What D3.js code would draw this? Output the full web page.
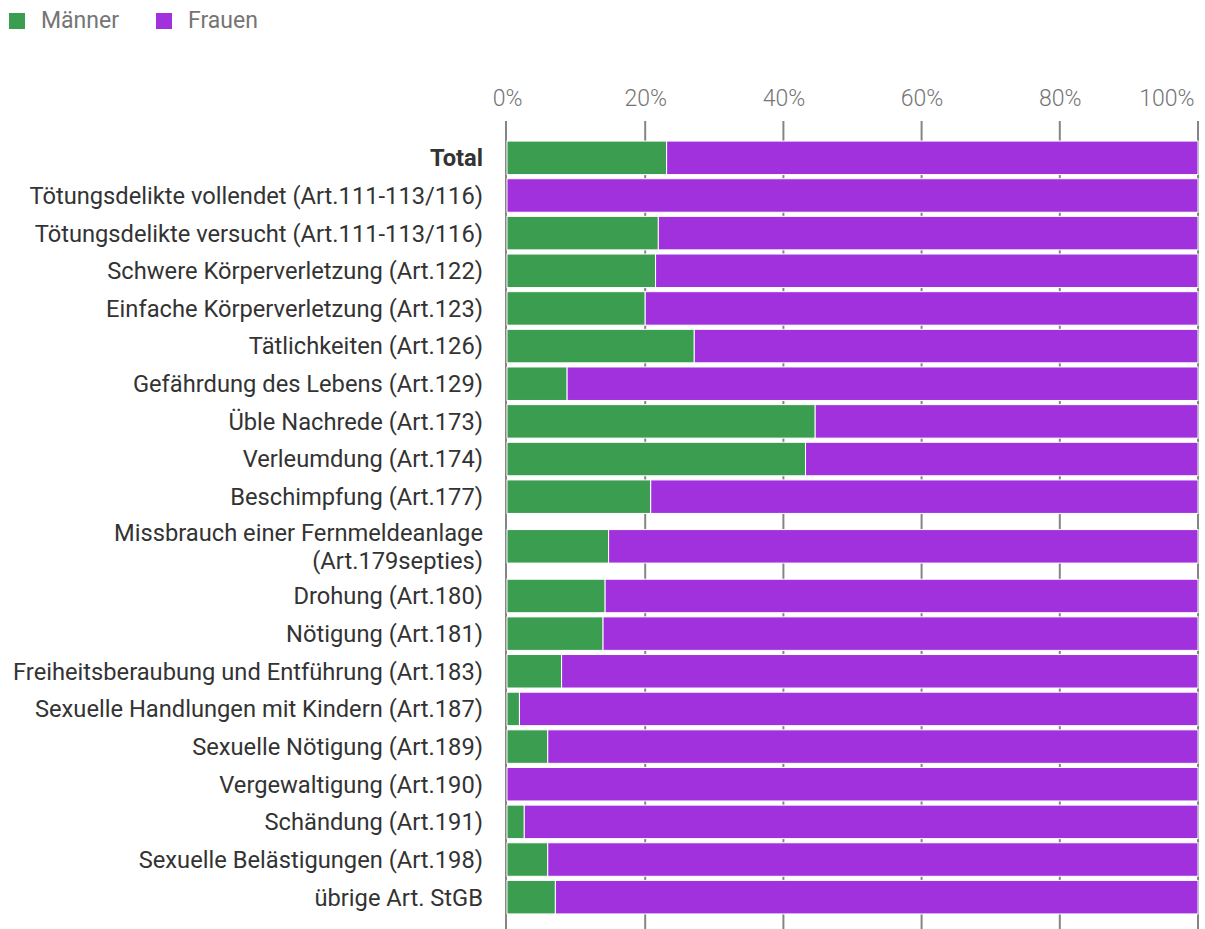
<!DOCTYPE html>
<html>
<head>
<meta charset="utf-8">
<script src="https://cdn.jsdelivr.net/npm/d3@7"></script>
<style>
  html, body { margin: 0; padding: 0; background: #fff; overflow: hidden; }
  svg { display: block; font-family: Roboto, "Noto Sans", sans-serif; }
</style>
</head>
<body>
<svg id="chart" width="1205" height="929"></svg>
<script>
const categories = [
  "Total",
  "Tötungsdelikte vollendet (Art.111-113/116)",
  "Tötungsdelikte versucht (Art.111-113/116)",
  "Schwere Körperverletzung (Art.122)",
  "Einfache Körperverletzung (Art.123)",
  "Tätlichkeiten (Art.126)",
  "Gefährdung des Lebens (Art.129)",
  "Üble Nachrede (Art.173)",
  "Verleumdung (Art.174)",
  "Beschimpfung (Art.177)",
  "Missbrauch einer Fernmeldeanlage\n(Art.179septies)",
  "Drohung (Art.180)",
  "Nötigung (Art.181)",
  "Freiheitsberaubung und Entführung (Art.183)",
  "Sexuelle Handlungen mit Kindern (Art.187)",
  "Sexuelle Nötigung (Art.189)",
  "Vergewaltigung (Art.190)",
  "Schändung (Art.191)",
  "Sexuelle Belästigungen (Art.198)",
  "übrige Art. StGB"
];
const maenner = [23.1, 0, 21.9, 21.5, 20.0, 27.1, 8.7, 44.6, 43.2, 20.8, 14.7, 14.2, 13.9, 7.9, 1.8, 5.9, 0, 2.5, 5.9, 7.0];
const frauen  = [76.9, 100, 78.1, 78.5, 80.0, 72.9, 91.3, 55.4, 56.8, 79.2, 85.3, 85.8, 86.1, 92.1, 98.2, 94.1, 100, 97.5, 94.1, 93.0];
const seriesNames = ["Männer", "Frauen"];
const seriesColors = ["#3a9d50", "#a131dd"];
const tickValues = [0, 20, 40, 60, 80, 100];

const svg = d3.select("#chart");
const W = 1205, H = 929;

// legend
const legend = svg.append("g");
const legendX = [9, 156];
seriesNames.forEach((name, i) => {
  const g = legend.append("g").attr("transform", `translate(${legendX[i]},13)`);
  g.append("rect").attr("width", 16).attr("height", 16).attr("fill", seriesColors[i]);
  g.append("text").attr("x", 32).attr("y", 15).attr("fill", "#757575")
    .attr("font-size", 23).text(name);
});

// layout
const x = d3.scaleLinear().domain([0, 100]).range([507, 1198]);
const lineH = 24;
const rows = categories.map((c, i) => ({
  label: c, lines: c.split("\n"), m: maenner[i], f: frauen[i], bold: i === 0
}));
let acc = 0;
rows.forEach(r => { r.u0 = acc; r.units = 1 + (r.lines.length - 1) * (lineH / 37.65); acc += r.units; r.u1 = acc; });
const y = d3.scaleLinear().domain([0, acc]).range([139, 916]);
const barH = 33.5;

// axis tick labels
const axis = d3.axisTop(x).tickValues(tickValues).tickFormat(d => d + "%").tickSize(0).tickPadding(0);
const axG = svg.append("g").attr("transform", "translate(0,106)").call(axis);
axG.select(".domain").remove();
axG.selectAll("text").attr("font-size", 23).attr("fill", "#757575")
  .attr("font-family", "Roboto, sans-serif").attr("font-weight", 300).attr("dy", 0)
  .attr("text-anchor", d => d === 100 ? "end" : "middle");
axG.selectAll(".tick").filter(d => d === 100).select("text").attr("x", -4);

// gridlines
svg.append("g").selectAll("line").data(tickValues).join("line")
  .attr("x1", d => x(d) - (d === 0 ? 1 : 0)).attr("x2", d => x(d) - (d === 0 ? 1 : 0))
  .attr("y1", 121).attr("y2", H)
  .attr("stroke", "#858585").attr("stroke-width", 2);

// bars
const barG = svg.append("g");
rows.forEach(r => {
  const top = (y(r.u0) + y(r.u1)) / 2 - barH / 2;
  const g = barG.append("g");
  const segs = [{v0: 0, v1: r.m, c: seriesColors[0]}, {v0: r.m, v1: r.m + r.f, c: seriesColors[1]}];
  g.selectAll("rect").data(segs.filter(s => s.v1 - s.v0 > 0)).join("rect")
    .attr("x", s => x(s.v0)).attr("width", s => x(s.v1) - x(s.v0))
    .attr("y", top).attr("height", barH)
    .attr("fill", s => s.c).attr("stroke", "#fff").attr("stroke-width", 1);
  const cy = top + barH / 2;
  const n = r.lines.length;
  const lh = 28;
  g.append("text").attr("text-anchor", "end").attr("x", 483)
    .attr("font-size", 23.7).attr("fill", "#333").attr("font-weight", r.bold ? 700 : 400)
    .selectAll("tspan").data(r.lines).join("tspan")
    .attr("x", 483).attr("y", (d, j) => cy + (j - (n - 1) / 2) * lh).attr("dy", "0.355em")
    .text(d => d);
});
</script>
</body>
</html>
